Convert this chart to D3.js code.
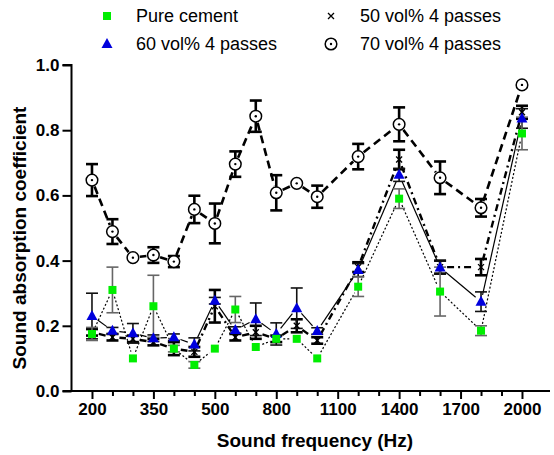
<!DOCTYPE html>
<html>
<head>
<meta charset="utf-8">
<script src="https://cdn.jsdelivr.net/npm/d3@7"></script>
<style>
  body { margin: 0; background: #fff; }
  text { font-family: "Liberation Sans", Arial, sans-serif; }
</style>
</head>
<body>
<svg id="chart" width="554" height="455"></svg>
<script>
const freqs = [200, 250, 300, 350, 400, 450, 500, 600, 700, 800, 900, 1000, 1200, 1400, 1600, 1800, 2000];

const pureCement    = [0.175, 0.31, 0.10, 0.26, 0.13, 0.08, 0.13, 0.25, 0.135, 0.16, 0.16, 0.10, 0.32, 0.59, 0.305, 0.185, 0.79];
const pureCementErr = [0.02, 0.07, 0, 0.095, 0.01, 0.01, 0, 0.04, 0, 0, 0, 0, 0.03, 0.03, 0.075, 0.015, 0.05];
const vol50    = [0.18, 0.165, 0.16, 0.15, 0.13, 0.12, 0.26, 0.165, 0.18, 0.16, 0.20, 0.155, 0.38, 0.71, 0.38, 0.38, 0.855];
const vol50Err = [0.01, 0.01, 0.01, 0.01, 0.02, 0.015, 0.05, 0.01, 0.02, 0.01, 0.02, 0.01, 0.015, 0.03, 0.02, 0.025, 0.02];
const vol60    = [0.23, 0.185, 0.177, 0.162, 0.165, 0.143, 0.277, 0.187, 0.22, 0.175, 0.254, 0.184, 0.371, 0.663, 0.379, 0.274, 0.836];
const vol60Err = [0.07, 0.01, 0.03, 0.01, 0.01, 0.02, 0.01, 0.01, 0.05, 0.034, 0.062, 0.01, 0.02, 0.02, 0.02, 0.03, 0.03];
const vol70    = [0.647, 0.489, 0.409, 0.417, 0.397, 0.557, 0.514, 0.696, 0.843, 0.608, 0.637, 0.596, 0.719, 0.818, 0.654, 0.562, 0.939];
const vol70Err = [0.049, 0.038, 0, 0.024, 0.017, 0.042, 0.061, 0.039, 0.048, 0.054, 0, 0.034, 0.039, 0.052, 0.05, 0.027, 0];

const minorTicks = [250, 300, 400, 450, 600, 700, 900, 1000, 1200, 1300, 1500, 1600, 1800, 1900];
const majorTicks = [200, 350, 500, 800, 1100, 1400, 1700, 2000];
const yTicks = [0, 0.2, 0.4, 0.6, 0.8, 1.0];

const svg = d3.select("#chart");

// x is piecewise: 50 Hz steps up to 500, then 100 Hz steps
const left = 71.5, step = 430 / 21, axisEnd = 550;
const x = d3.scaleLinear()
    .domain([150, 500, 2000])
    .range([left, left + 7 * step, left + 22 * step]);
const y = d3.scaleLinear().domain([0, 1]).range([391, 65]);

const series = [
    { name: "70 vol% 4 passes", vals: vol70, errs: vol70Err, marker: "circle",
      lw: 2.6, dash: "8,5", ew: 2.6, ec: "#000" },
    { name: "50 vol% 4 passes", vals: vol50, errs: vol50Err, marker: "cross",
      lw: 2.4, dash: "7,4,2,4", ew: 2.6, ec: "#000" },
    { name: "60 vol% 4 passes", vals: vol60, errs: vol60Err, marker: "triangle",
      lw: 1.2, dash: null, ew: 1.6, ec: "#111" },
    { name: "Pure cement", vals: pureCement, errs: pureCementErr, marker: "square",
      lw: 1.2, dash: "2,2", ew: 1.6, ec: "#666" }
];

// lines, stopping short of each marker
const gap = 7;
series.forEach(s => {
    const pts = freqs.map((f, i) => [x(f), y(s.vals[i])]);
    const segs = d3.pairs(pts).map(([a, b]) => {
        const dx = b[0] - a[0], dy = b[1] - a[1];
        const len = Math.hypot(dx, dy);
        const ux = dx / len, uy = dy / len;
        return [a[0] + ux * gap, a[1] + uy * gap, b[0] - ux * gap, b[1] - uy * gap, len];
    }).filter(d => d[4] > gap * 2);
    svg.append("g").selectAll("line").data(segs).enter().append("line")
        .attr("x1", d => d[0]).attr("y1", d => d[1])
        .attr("x2", d => d[2]).attr("y2", d => d[3])
        .attr("stroke", "#000")
        .attr("stroke-width", s.lw)
        .attr("stroke-dasharray", s.dash);
});

// error bars
series.forEach(s => {
    const data = freqs.map((f, i) => ({ f, v: s.vals[i], e: s.errs[i] })).filter(d => d.e > 0);
    const g = svg.append("g").attr("stroke", s.ec).attr("stroke-width", s.ew);
    g.selectAll("line.v").data(data).enter().append("line")
        .attr("x1", d => x(d.f)).attr("x2", d => x(d.f))
        .attr("y1", d => y(d.v - d.e)).attr("y2", d => y(d.v + d.e));
    [-1, 1].forEach(sign => {
        g.selectAll(null).data(data).enter().append("line")
            .attr("x1", d => x(d.f) - 6).attr("x2", d => x(d.f) + 6)
            .attr("y1", d => y(d.v + sign * d.e)).attr("y2", d => y(d.v + sign * d.e));
    });
});

function drawMarker(g, type, cx, cy) {
    if (type === "square") {
        g.append("rect").attr("x", cx - 4).attr("y", cy - 4).attr("width", 8).attr("height", 8)
            .attr("fill", "#00ee00");
    } else if (type === "triangle") {
        g.append("path").attr("d", `M${cx},${cy - 6}L${cx + 5.5},${cy + 4}L${cx - 5.5},${cy + 4}Z`)
            .attr("fill", "#0000dd");
    } else if (type === "cross") {
        g.append("path").attr("d", `M${cx - 3},${cy - 3}L${cx + 3},${cy + 3}M${cx - 3},${cy + 3}L${cx + 3},${cy - 3}`)
            .attr("stroke", "#000").attr("stroke-width", 1.3);
    } else {
        g.append("circle").attr("cx", cx).attr("cy", cy).attr("r", 5.8)
            .attr("fill", "#fff").attr("stroke", "#000").attr("stroke-width", 1.5);
        g.append("circle").attr("cx", cx).attr("cy", cy).attr("r", 1.2).attr("fill", "#000");
    }
}

// markers
series.forEach(s => {
    const g = svg.append("g");
    freqs.forEach((f, i) => drawMarker(g, s.marker, x(f), y(s.vals[i])));
});

// axes
const axisFont = (sel) => sel.selectAll("text")
    .attr("font-family", "Liberation Sans, Arial, sans-serif")
    .attr("font-weight", "bold").attr("font-size", 17).attr("fill", "#000");

const yAxis = svg.append("g").attr("transform", `translate(${left},0)`)
    .call(d3.axisLeft(y).tickValues(yTicks).tickFormat(d3.format(".1f")).tickSize(9).tickPadding(3));
yAxis.call(axisFont);
yAxis.selectAll("line, path").attr("stroke", "#000").attr("stroke-width", 2);
yAxis.select(".domain").attr("d", `M-9,${y(1)}H0V${y(0)}H-9`);

const xMinor = svg.append("g").attr("transform", `translate(0,${y(0)})`)
    .call(d3.axisBottom(x).tickValues(minorTicks).tickFormat("").tickSize(5));
xMinor.select(".domain").remove();
xMinor.selectAll("line").attr("stroke", "#000").attr("stroke-width", 2);

const xMajor = svg.append("g").attr("transform", `translate(0,${y(0)})`)
    .call(d3.axisBottom(x).tickValues(majorTicks).tickFormat(d3.format("d")).tickSize(8).tickPadding(4));
xMajor.select(".domain").remove();
xMajor.selectAll("line").attr("stroke", "#000").attr("stroke-width", 2);
xMajor.call(axisFont);

svg.append("line").attr("x1", left - 1).attr("x2", axisEnd)
    .attr("y1", y(0)).attr("y2", y(0)).attr("stroke", "#000").attr("stroke-width", 2);

svg.append("text").attr("x", 315).attr("y", 447).attr("text-anchor", "middle")
    .attr("font-weight", "bold").attr("font-size", 19).text("Sound frequency (Hz)");
svg.append("text").attr("transform", "translate(26,238) rotate(-90)").attr("text-anchor", "middle")
    .attr("font-weight", "bold").attr("font-size", 19).text("Sound absorption coefficient");

// legend
const legendItems = [
    { s: series[3], lx: 107, ly: 16 },
    { s: series[1], lx: 331, ly: 16 },
    { s: series[2], lx: 107, ly: 44 },
    { s: series[0], lx: 331, ly: 44 }
];
const lg = svg.append("g");
legendItems.forEach(d => {
    drawMarker(lg, d.s.marker, d.lx, d.ly);
    lg.append("text").attr("x", d.lx + 29).attr("y", d.ly + 6)
        .attr("font-size", 18).attr("fill", "#000").text(d.s.name);
});
</script>
</body>
</html>
